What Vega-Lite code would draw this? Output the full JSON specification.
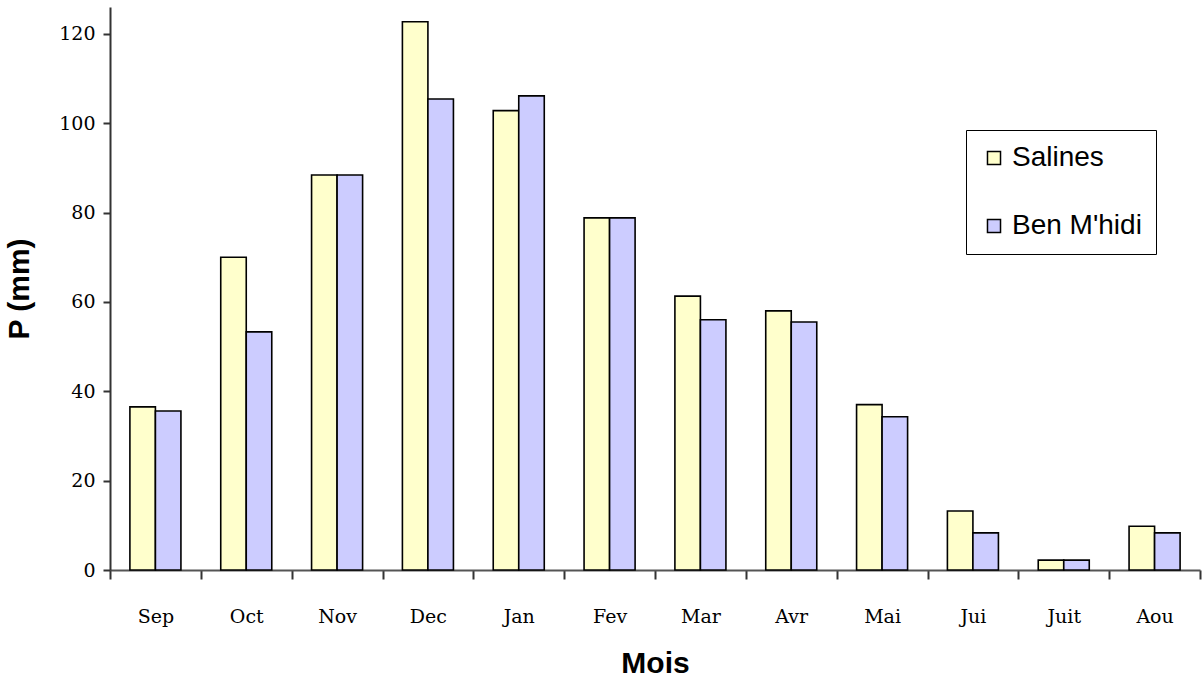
{
  "$schema": "https://vega.github.io/schema/vega-lite/v6.json",
  "width": 1090,
  "height": 563,
  "autosize": {"type": "none"},
  "padding": {"left": 110, "top": 7, "right": 2, "bottom": 120},
  "background": "white",
  "data": {"values": [
    {"mois": "Sep", "station": "Salines", "p": 36.5},
    {"mois": "Sep", "station": "Ben M'hidi", "p": 35.6},
    {"mois": "Oct", "station": "Salines", "p": 70},
    {"mois": "Oct", "station": "Ben M'hidi", "p": 53.3},
    {"mois": "Nov", "station": "Salines", "p": 88.4},
    {"mois": "Nov", "station": "Ben M'hidi", "p": 88.4},
    {"mois": "Dec", "station": "Salines", "p": 122.7},
    {"mois": "Dec", "station": "Ben M'hidi", "p": 105.4},
    {"mois": "Jan", "station": "Salines", "p": 102.8},
    {"mois": "Jan", "station": "Ben M'hidi", "p": 106.1},
    {"mois": "Fev", "station": "Salines", "p": 78.8},
    {"mois": "Fev", "station": "Ben M'hidi", "p": 78.8},
    {"mois": "Mar", "station": "Salines", "p": 61.3},
    {"mois": "Mar", "station": "Ben M'hidi", "p": 56},
    {"mois": "Avr", "station": "Salines", "p": 58},
    {"mois": "Avr", "station": "Ben M'hidi", "p": 55.5},
    {"mois": "Mai", "station": "Salines", "p": 37},
    {"mois": "Mai", "station": "Ben M'hidi", "p": 34.3},
    {"mois": "Jui", "station": "Salines", "p": 13.2},
    {"mois": "Jui", "station": "Ben M'hidi", "p": 8.3},
    {"mois": "Juit", "station": "Salines", "p": 2.2},
    {"mois": "Juit", "station": "Ben M'hidi", "p": 2.2},
    {"mois": "Aou", "station": "Salines", "p": 9.8},
    {"mois": "Aou", "station": "Ben M'hidi", "p": 8.3}
  ]},
  "mark": {"type": "bar", "stroke": "black", "strokeWidth": 1.6},
  "encoding": {
    "x": {
      "field": "mois", "type": "nominal",
      "sort": ["Sep","Oct","Nov","Dec","Jan","Fev","Mar","Avr","Mai","Jui","Juit","Aou"],
      "scale": {"paddingInner": 0, "paddingOuter": 0},
      "axis": {
        "title": "Mois", "titleFont": "Liberation Sans", "titleFontSize": 30, "titleFontWeight": "bold",
        "titleColor": "black", "titlePadding": 22,
        "labelAngle": 0, "labelFont": "DejaVu Serif", "labelFontSize": 19, "labelColor": "black",
        "labelPadding": 28, "tickBand": "extent", "tickSize": 9, "tickColor": "#333", "tickWidth": 2,
        "domainColor": "#555", "domainWidth": 2
      }
    },
    "xOffset": {"field": "station", "type": "nominal", "sort": ["Salines", "Ben M'hidi"],
      "scale": {"paddingInner": 0, "paddingOuter": 0.78}},
    "y": {
      "field": "p", "type": "quantitative",
      "scale": {"domain": [0, 126], "nice": false},
      "axis": {
        "title": "P (mm)", "titleFont": "Liberation Sans", "titleFontSize": 30, "titleFontWeight": "bold",
        "titleColor": "black", "titlePadding": 24,
        "values": [0,20,40,60,80,100,120], "grid": false,
        "labelFont": "DejaVu Serif", "labelFontSize": 19, "labelColor": "black", "labelPadding": 8,
        "tickSize": 7, "tickColor": "#333", "tickWidth": 2, "domainColor": "#333", "domainWidth": 2
      }
    },
    "color": {
      "field": "station", "type": "nominal",
      "scale": {"domain": ["Salines", "Ben M'hidi"], "range": ["#FFFFCC", "#CCCCFF"]},
      "legend": {
        "title": null, "orient": "none", "legendX": 856, "legendY": 123,
        "strokeColor": "black", "fillColor": "white", "padding": 14,
        "symbolType": "square", "symbolSize": 170, "symbolStrokeColor": "black", "symbolStrokeWidth": 1.5,
        "labelFont": "Liberation Sans", "labelFontSize": 28, "labelColor": "black",
        "rowPadding": 40, "labelOffset": 4
      }
    }
  },
  "config": {"view": {"stroke": null}}
}
